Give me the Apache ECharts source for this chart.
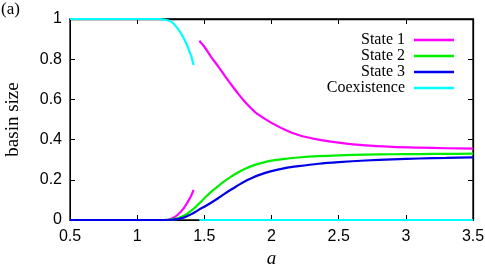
<!DOCTYPE html>
<html>
<head>
<meta charset="utf-8">
<script src="https://cdn.jsdelivr.net/npm/echarts@6/dist/echarts.min.js"></script>
<style>html,body{margin:0;padding:0;background:#fff}#c{width:485px;height:272px}</style>
</head>
<body>
<div id="c"></div>
<script>
const aValues = [0.5, 1.0, 1.15, 1.2, 1.25, 1.3, 1.35, 1.4, 1.42, 1.44, 1.463, 1.5, 1.55, 1.6, 1.65, 1.7, 1.75, 1.8, 1.85, 1.9, 2.0, 2.1, 2.2, 2.35, 2.5, 2.7, 2.9, 3.1, 3.3, 3.5];
const state1 = [0, 0, 0, 0, 0.005, 0.025, 0.062, 0.118, 0.15, null, 0.892, 0.862, 0.812, 0.767, 0.72, 0.674, 0.63, 0.59, 0.555, 0.525, 0.483, 0.449, 0.423, 0.4, 0.385, 0.371, 0.364, 0.36, 0.357, 0.355];
const state2 = [0, 0, 0, 0, 0.002, 0.008, 0.022, 0.045, 0.056, 0.068, 0.083, 0.108, 0.14, 0.167, 0.193, 0.216, 0.236, 0.254, 0.268, 0.279, 0.295, 0.304, 0.311, 0.318, 0.322, 0.325, 0.327, 0.328, 0.329, 0.33];
const state3 = [0, 0, 0, 0, 0.001, 0.004, 0.013, 0.028, 0.035, 0.043, 0.053, 0.066, 0.086, 0.107, 0.13, 0.152, 0.172, 0.192, 0.208, 0.222, 0.243, 0.258, 0.268, 0.28, 0.288, 0.296, 0.302, 0.306, 0.309, 0.312];
const coexistence = [1, 1, 1, 0.997, 0.988, 0.955, 0.9, 0.82, 0.771, null, 0, 0, 0, 0, 0, 0, 0, 0, 0, 0, 0, 0, 0, 0, 0, 0, 0, 0, 0, 0];
const seriesNames = ['State 1', 'State 2', 'State 3', 'Coexistence'];
const seriesColors = ['#ff00ff', '#00ee00', '#0000e6', '#00ffff'];
const xTicks = [0.5, 1, 1.5, 2, 2.5, 3, 3.5];
const yTicks = [0, 0.2, 0.4, 0.6, 0.8, 1];
const xRange = [0.5, 3.5];
const yRange = [0, 1];

const allValues = [state1, state2, state3, coexistence];
const pairs = vals => aValues.map((a, i) => [a, vals[i]]);

const sans = 'Liberation Sans, Arial, sans-serif';
const serif = 'Liberation Serif, Times New Roman, serif';
const axisColor = '#000';

const series = seriesNames.map((n, i) => ({
  name: n, type: 'line',
  data: pairs(allValues[i]),
  showSymbol: false, symbol: 'none', connectNulls: false, smooth: 0.3,
  lineStyle: {color: seriesColors[i], width: 2.2},
  itemStyle: {color: seriesColors[i]},
  z: 2 + i
}));
// invisible copy bound to the mirrored (top/right) axes so their lines and ticks are drawn
series.push({
  name: 'mirror', type: 'line', xAxisIndex: 1, yAxisIndex: 1,
  data: pairs(state3), symbol: 'none', showSymbol: false,
  lineStyle: {color: 'rgba(0,0,0,0)', width: 1}
});

const chart = echarts.init(document.getElementById('c'), null, {renderer: 'canvas'});
chart.setOption({
  animation: false,
  title: {text: '(a)', left: 1, top: 1, padding: 0, textStyle: {fontFamily: serif, fontSize: 17, fontWeight: 'normal', color: '#000'}},
  grid: {left: 70, right: 12, top: 19, bottom: 52, outerBoundsMode: 'none', show: true, borderColor: axisColor, borderWidth: 1.3},
  legend: {
    orient: 'vertical', align: 'right', right: 26, top: 27,
    itemWidth: 40, itemHeight: 2.5, itemGap: 0, icon: 'rect',
    data: seriesNames,
    textStyle: {fontFamily: serif, fontSize: 16, color: '#000', lineHeight: 14, padding: [0, 4, 0, 0]}
  },
  xAxis: [
    {type: 'value', min: xRange[0], max: xRange[1], interval: 0.5, position: 'bottom',
      name: 'a', nameLocation: 'middle', nameGap: 22,
      nameTextStyle: {fontFamily: serif, fontSize: 19, fontStyle: 'italic', color: '#000'},
      axisLine: {show: true, onZero: false, lineStyle: {color: axisColor, width: 1}},
      axisTick: {show: true, inside: true, length: 5, lineStyle: {color: axisColor, width: 1}},
      splitLine: {show: false},
      axisLabel: {margin: 9, fontFamily: sans, fontSize: 16, color: '#000',
        formatter: v => xTicks.includes(v) ? String(v) : ''}},
    {type: 'value', min: xRange[0], max: xRange[1], interval: 0.5, position: 'top',
      axisLine: {show: true, onZero: false, lineStyle: {color: axisColor, width: 1.3}},
      axisTick: {show: true, inside: true, length: 5, lineStyle: {color: axisColor, width: 1}},
      splitLine: {show: false},
      axisLabel: {show: true, color: 'rgba(0,0,0,0)'}},
  ],
  yAxis: [
    {type: 'value', min: yRange[0], max: yRange[1], interval: 0.2, position: 'left',
      name: 'basin size', nameLocation: 'middle', nameGap: 47,
      nameTextStyle: {fontFamily: serif, fontSize: 19, color: '#000'},
      axisLine: {show: true, onZero: false, lineStyle: {color: axisColor, width: 1}},
      axisTick: {show: true, inside: true, length: 5, lineStyle: {color: axisColor, width: 1}},
      splitLine: {show: false},
      axisLabel: {margin: 8, fontFamily: sans, fontSize: 16, color: '#000',
        formatter: v => yTicks.includes(v) ? String(v) : ''}},
    {type: 'value', min: yRange[0], max: yRange[1], interval: 0.2, position: 'right',
      axisLine: {show: true, onZero: false, lineStyle: {color: axisColor, width: 1.3}},
      axisTick: {show: true, inside: true, length: 5, lineStyle: {color: axisColor, width: 1}},
      splitLine: {show: false},
      axisLabel: {show: true, color: 'rgba(0,0,0,0)'}}
  ],
  series: series
});
</script>
</body>
</html>
